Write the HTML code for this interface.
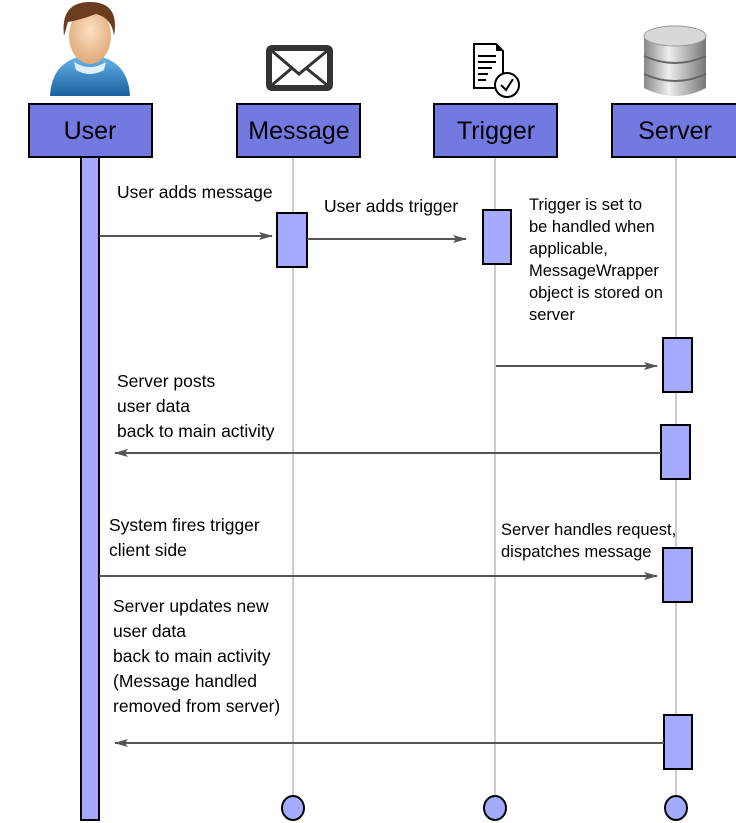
<!DOCTYPE html>
<html><head><meta charset="utf-8"><style>
html,body{margin:0;padding:0;background:#fff;}
svg{display:block;}
text{font-family:"Liberation Sans",sans-serif;fill:#000;}
.h{font-size:25px;text-anchor:middle;}
.t{font-size:17.5px;}
.s{font-size:16.5px;}
</style></head><body>
<svg width="736" height="823" viewBox="0 0 736 823" xmlns="http://www.w3.org/2000/svg">
<defs>
<marker id="a" markerWidth="14" markerHeight="10" refX="13" refY="5" orient="auto" markerUnits="userSpaceOnUse">
<path d="M0,1 L14,5 L0,9 L3,5 Z" fill="#555"/></marker>
<radialGradient id="face" cx="50%" cy="40%" r="60%"><stop offset="0" stop-color="#fde0c2"/><stop offset="1" stop-color="#e0a878"/></radialGradient>
<linearGradient id="body" x1="0" y1="0" x2="0" y2="1"><stop offset="0" stop-color="#6ab8ee"/><stop offset="1" stop-color="#1a5f9e"/></linearGradient>
<linearGradient id="db" x1="0" y1="0" x2="1" y2="0"><stop offset="0" stop-color="#888"/><stop offset="0.4" stop-color="#eee"/><stop offset="1" stop-color="#777"/></linearGradient>
</defs>
<g stroke="#999" stroke-width="1">
<line x1="293" y1="157" x2="293" y2="798"/>
<line x1="495" y1="157" x2="495" y2="798"/>
<line x1="676" y1="157" x2="676" y2="798"/>
</g>
<g>
<path d="M50,96 Q52,58 90,55 Q128,58 130,96 Z" fill="url(#body)"/>
<path d="M74,62 Q90,72 106,62 L104,70 Q90,78 76,70 Z" fill="#dff0fb"/>
<ellipse cx="90" cy="36" rx="21" ry="28" fill="url(#face)"/>
<path d="M64,36 Q60,2 90,2 Q120,2 114,36 Q112,18 96,14 Q80,20 68,22 Z" fill="#6b3d1e"/>
</g>
<g>
<rect x="266" y="45" width="67" height="46" rx="6" fill="#333"/>
<rect x="272" y="51" width="55" height="34" fill="#fff"/>
<path d="M272,51 L299,74 L327,51 M272,85 L292,68 M327,85 L306,68" stroke="#333" stroke-width="3" fill="none"/>
</g>
<g>
<path d="M474,44 L496,44 L503,51 L503,88 L474,88 Z" fill="#fff" stroke="#000" stroke-width="2"/>
<path d="M496,44 L496,51 L503,51 Z" fill="#000"/>
<g stroke="#000" stroke-width="2"><line x1="478" y1="56" x2="496" y2="56"/><line x1="478" y1="62" x2="496" y2="62"/><line x1="478" y1="68" x2="492" y2="68"/><line x1="478" y1="74" x2="488" y2="74"/><line x1="478" y1="80" x2="486" y2="80"/></g>
<circle cx="507" cy="85" r="12" fill="#fff" stroke="#000" stroke-width="2"/>
<path d="M501,85 L506,90 L513,79" stroke="#000" stroke-width="2" fill="none"/>
</g>
<g>
<path d="M644,36 L644,88 Q675,104 706,88 L706,36 Z" fill="url(#db)"/>
<ellipse cx="675" cy="36" rx="31" ry="10" fill="#d8d8d8" stroke="#999"/>
<path d="M644,56 Q675,70 706,56 M644,74 Q675,88 706,74" stroke="#666" stroke-width="2" fill="none"/>
</g>
<g fill="#7279e0" stroke="#000" stroke-width="2">
<rect x="29" y="104" width="123" height="53"/>
<rect x="237" y="104" width="123" height="53"/>
<rect x="434" y="104" width="123" height="53"/>
<rect x="612" y="104" width="126" height="53"/>
</g>
<text class="h" x="90" y="139">User</text>
<text class="h" x="299" y="139">Message</text>
<text class="h" x="496" y="139">Trigger</text>
<text class="h" x="675" y="139">Server</text>
<g fill="#a3aaff" stroke="#000" stroke-width="2">
<rect x="81" y="157" width="18" height="663"/>
<rect x="277" y="213" width="30" height="54"/>
<rect x="483" y="210" width="28" height="54"/>
<rect x="663" y="338" width="29" height="54"/>
<rect x="661" y="425" width="29" height="54"/>
<rect x="663" y="548" width="29" height="54"/>
<rect x="664" y="715" width="28" height="54"/>
<ellipse cx="293" cy="808" rx="11" ry="12"/>
<ellipse cx="495" cy="808" rx="11" ry="12"/>
<ellipse cx="676" cy="808" rx="11" ry="12"/>
</g>
<g stroke="#555" stroke-width="2" marker-end="url(#a)">
<line x1="99" y1="236" x2="272" y2="236"/>
<line x1="307" y1="239" x2="466" y2="239"/>
<line x1="496" y1="366" x2="657" y2="366"/>
<line x1="661" y1="453" x2="115" y2="453"/>
<line x1="99" y1="576" x2="657" y2="576"/>
<line x1="664" y1="743" x2="115" y2="743"/>
</g>
<text class="t" x="117" y="198">User adds message</text>
<text class="t" x="324" y="212">User adds trigger</text>
<text class="s" x="529" y="210">Trigger is set to</text>
<text class="s" x="529" y="232">be handled when</text>
<text class="s" x="529" y="254">applicable,</text>
<text class="s" x="529" y="276">MessageWrapper</text>
<text class="s" x="529" y="298">object is stored on</text>
<text class="s" x="529" y="320">server</text>
<text class="t" x="117" y="387">Server posts</text>
<text class="t" x="117" y="412">user data</text>
<text class="t" x="117" y="437">back to main activity</text>
<text class="t" x="109" y="531">System fires trigger</text>
<text class="t" x="109" y="556">client side</text>
<text class="s" x="501" y="535">Server handles request,</text>
<text class="s" x="501" y="557">dispatches message</text>
<text class="t" x="113" y="612">Server updates new</text>
<text class="t" x="113" y="637">user data</text>
<text class="t" x="113" y="662">back to main activity</text>
<text class="t" x="113" y="687">(Message handled</text>
<text class="t" x="113" y="712">removed from server)</text>
</svg>
</body></html>
